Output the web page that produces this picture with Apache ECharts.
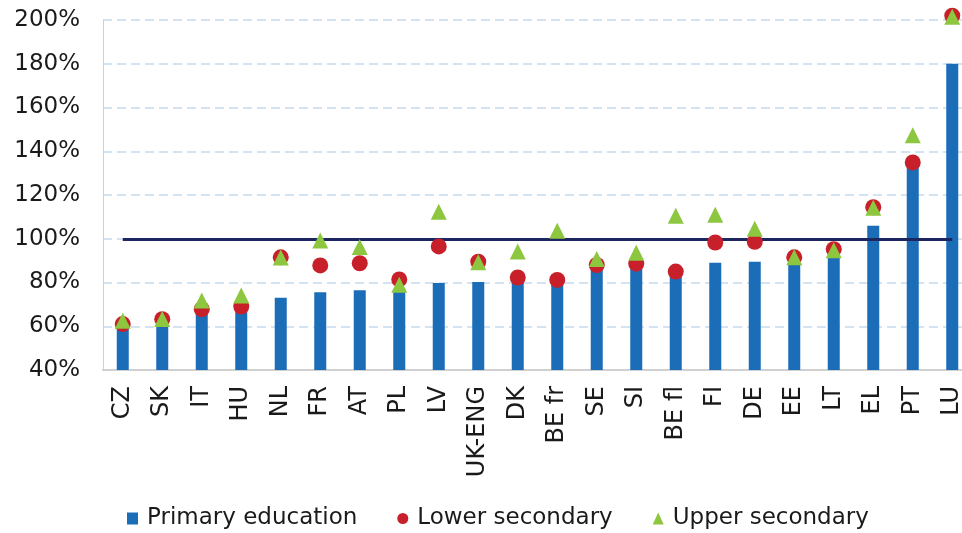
<!DOCTYPE html>
<html>
<head>
<meta charset="utf-8">
<script src="https://cdn.jsdelivr.net/npm/echarts@6/dist/echarts.min.js"></script>
<style>
  html, body { margin: 0; padding: 0; background: #ffffff; }
  #chart { width: 962px; height: 533px; }
</style>
</head>
<body>
<div id="chart"></div>
<script>
// Countries / regions along the x axis
const categories = ['CZ', 'SK', 'IT', 'HU', 'NL', 'FR', 'AT', 'PL', 'LV', 'UK-ENG', 'DK',
  'BE fr', 'SE', 'SI', 'BE fl', 'FI', 'DE', 'EE', 'LT', 'EL', 'PT', 'LU'];

// Values in percent
const primaryEducation = [59, 60, 66, 67, 73, 75.5, 76.5, 77, 79.8, 80.2, 81, 81, 86.3, 87.5,
  84, 89, 89.5, 88.6, 92, 106, 133, 180];
const lowerSecondary = [61, 63.2, 67.8, 69, 91.5, 87.8, 88.8, 81.4, 96.5, 89.5, 82.3, 81.2,
  88, 88.6, 85, 98.3, 98.6, 91.5, 95.2, 114.4, 134.9, 202];
const upperSecondary = [62.5, 63.3, 71.8, 74.1, 91.4, 99.2, 96.2, 79, 112.4, 89.3, 94.2, 103.7,
  90.7, 93.6, 110.5, 111, 104.6, 91.5, 94.8, 114.2, 147.3, 201.5];

// Y axis range and the 100% reference level
const yMin = 40;
const yMax = 200;
const yStep = 20;
const referenceLevel = 100;

const font = 'DejaVu Sans, Verdana, sans-serif';

const chart = echarts.init(document.getElementById('chart'), null, { renderer: 'canvas' });

chart.setOption({
  animation: false,
  backgroundColor: '#ffffff',
  // plot area runs slightly past the right edge of the canvas
  grid: {
    left: 103, width: 869, top: 20, bottom: 163,
    containLabel: false, outerBoundsMode: 'none'
  },
  legend: {
    bottom: -2,
    left: 122,
    itemGap: 40,
    itemWidth: 11,
    itemHeight: 12,
    textStyle: { fontFamily: font, fontSize: 23, color: '#1a1a1a', padding: [0, 0, 0, 4] },
    data: [
      { name: 'Primary education', icon: 'rect', itemStyle: { color: '#1b6db8' } },
      { name: 'Lower secondary', icon: 'circle', itemStyle: { color: '#c8202a' } },
      { name: 'Upper secondary', icon: 'triangle', itemStyle: { color: '#8dc63f' } }
    ]
  },
  xAxis: {
    type: 'category',
    data: categories,
    axisLine: { show: true, lineStyle: { color: '#d0d0d0', width: 2 } },
    axisTick: { show: false },
    axisLabel: {
      rotate: 90,
      margin: 16,
      interval: 0,
      fontFamily: font,
      fontSize: 24,
      color: '#1a1a1a'
    },
    splitLine: { show: false }
  },
  yAxis: {
    type: 'value',
    min: yMin,
    max: yMax,
    interval: yStep,
    axisLine: { show: true, lineStyle: { color: '#d0d0d0', width: 1 } },
    axisTick: { show: false },
    axisLabel: {
      formatter: '{value}%',
      margin: 23,
      fontFamily: font,
      fontSize: 23,
      color: '#1a1a1a'
    },
    splitLine: {
      show: true,
      lineStyle: { color: '#c5daee', width: 1.5, type: [9, 5] }
    }
  },
  series: [
    {
      name: 'Primary education',
      type: 'bar',
      data: primaryEducation,
      barWidth: 12,
      itemStyle: { color: '#1b6db8' },
      z: 2,
      markLine: {
        silent: true,
        symbol: 'none',
        z: 5,
        label: { show: false },
        lineStyle: { color: '#1e2660', width: 3, type: 'solid' },
        data: [[
          { xAxis: categories[0], yAxis: referenceLevel },
          { xAxis: categories[categories.length - 1], yAxis: referenceLevel }
        ]]
      }
    },
    {
      name: 'Lower secondary',
      type: 'scatter',
      data: lowerSecondary,
      symbol: 'circle',
      symbolSize: 16,
      clip: false,
      itemStyle: { color: '#c8202a', opacity: 1 },
      z: 10
    },
    {
      name: 'Upper secondary',
      type: 'scatter',
      data: upperSecondary,
      symbol: 'triangle',
      symbolSize: [16, 16],
      clip: false,
      itemStyle: { color: '#8dc63f', opacity: 1 },
      z: 11
    }
  ]
});
</script>
</body>
</html>
